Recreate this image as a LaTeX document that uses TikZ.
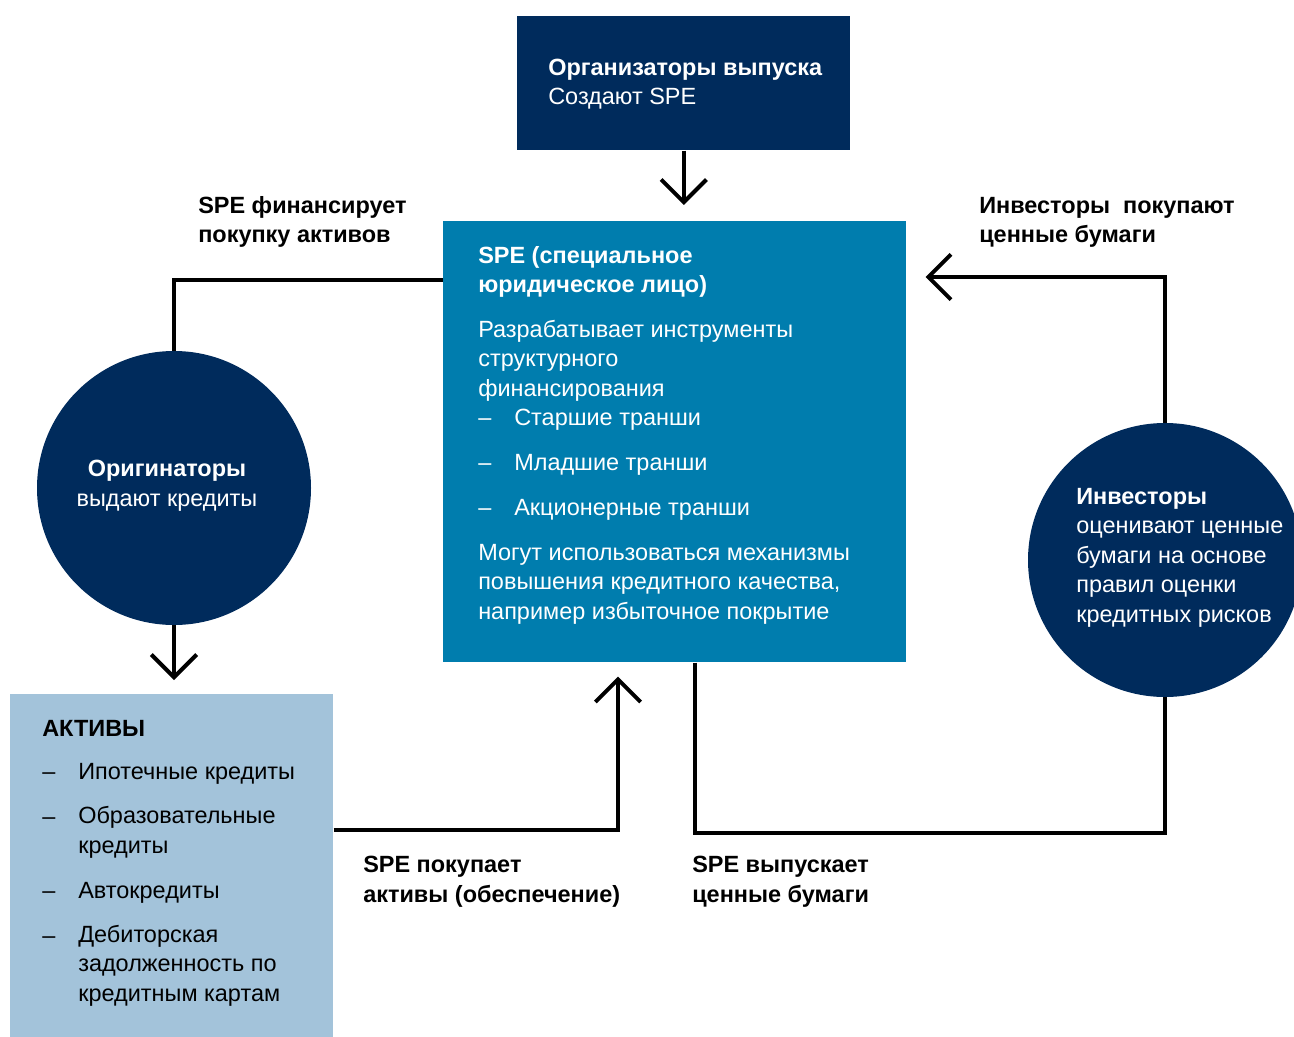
\documentclass[tikz,border=0pt]{standalone}
\usepackage{fontspec}
\setmainfont{Liberation Sans}
\usetikzlibrary{arrows.meta}
\definecolor{navy}{HTML}{002B5C}
\definecolor{speblue}{HTML}{007DAE}
\definecolor{lightblue}{HTML}{A3C3DA}
\begin{document}
\begin{tikzpicture}[x=0.75pt,y=-0.75pt,
  font=\fontsize{17.6}{22.1}\selectfont,
  txt/.style={anchor=base west, inner sep=0pt, align=left},
  wtxt/.style={txt, text=white},
  btxt/.style={txt, font=\fontsize{17.6}{22.1}\selectfont\bfseries},
  conn/.style={line width=3pt, line join=miter},
  tipped/.style={-{Straight Barb[length=17pt,width=34pt]}},
  boxnode/.style={rectangle, inner sep=0pt, anchor=north west},
  circ/.style={circle, fill=navy, inner sep=0pt, minimum size=205.5pt}]
\clip (0,0) rectangle (1294,1037);
\fill[white] (0,0) rectangle (1294,1037);
% boxes
\node[boxnode, fill=navy, minimum width=249.75pt, minimum height=100.5pt] (top) at (517,16) {};
\node[boxnode, fill=speblue, minimum width=347.25pt, minimum height=330.75pt] (spe) at (443,221) {};
\node[boxnode, fill=lightblue, minimum width=242.25pt, minimum height=257.25pt] (assets) at (10,694) {};
\node[circ] (orig) at (174,488) {};
\node[circ] (inv) at (1165,560) {};
% connectors
\draw[conn,tipped,shorten >=12pt] (top.south) -- (top.south |- spe.north);
\draw[conn] ([yshift=-44.25pt]spe.north west) -| (orig.north);
\draw[conn,tipped,shorten >=10.5pt] (orig.south) -- (orig.south |- assets.north);
\draw[conn,tipped,shorten >=10.5pt] ([yshift=-102pt]assets.north east) -| ([xshift=131.25pt]spe.south west);
\draw[conn] ([xshift=189pt]spe.south west) -- ++(0,170) -| (inv.south);
\draw[conn,tipped,shorten >=14.25pt] (inv.north) |- ([yshift=-42pt]spe.north east);
% top box text (anchors at last baseline)
\node[wtxt] (toptext) at (548,105) {\textbf{Организаторы выпуска}\\Создают SPE};
% SPE text
\node[wtxt] (spetitle) at (478,293) {\textbf{SPE (специальное}\\\textbf{юридическое лицо)}};
\node[wtxt] (spedesc) at (478,396) {Разрабатывает инструменты\\структурного\\финансирования};
\node[wtxt] (d1) at (478,425) {–};
\node[wtxt] (i1) at (514,425) {Старшие транши};
\node[wtxt] (d2) at (478,470) {–};
\node[wtxt] (i2) at (514,470) {Младшие транши};
\node[wtxt] (d3) at (478,515) {–};
\node[wtxt] (i3) at (514,515) {Акционерные транши};
\node[wtxt] (spemore) at (478,619) {Могут использоваться механизмы\\повышения кредитного качества,\\например избыточное покрытие};
% originators
\node[anchor=base, inner sep=0pt, align=center, text=white] (origtext) at (167,506) {\textbf{Оригинаторы}\\выдают кредиты};
% investors
\node[wtxt] (invtext) at (1076,622) {\textbf{Инвесторы}\\оценивают ценные\\бумаги на основе\\правил оценки\\кредитных рисков};
% assets
\node[txt] (assetstitle) at (42,736) {\textbf{АКТИВЫ}};
\node[txt] (ad1) at (42,779) {–};
\node[txt] (a1) at (78,779) {Ипотечные кредиты};
\node[txt] (ad2) at (42,824) {–};
\node[txt] (a2) at (78,853) {Образовательные\\кредиты};
\node[txt] (ad3) at (42,898) {–};
\node[txt] (a3) at (78,898) {Автокредиты};
\node[txt] (ad4) at (42,943) {–};
\node[txt] (a4) at (78,1001) {Дебиторская\\задолженность по\\кредитным картам};
% connector labels
\node[btxt] (lab1) at (198,243) {SPE финансирует\\покупку активов};
\node[btxt] (lab2) at (979,243) {Инвесторы\ \ покупают\\ценные бумаги};
\node[btxt] (lab3) at (363,902) {SPE покупает\\активы (обеспечение)};
\node[btxt] (lab4) at (692,902) {SPE выпускает\\ценные бумаги};
\end{tikzpicture}
\end{document}
